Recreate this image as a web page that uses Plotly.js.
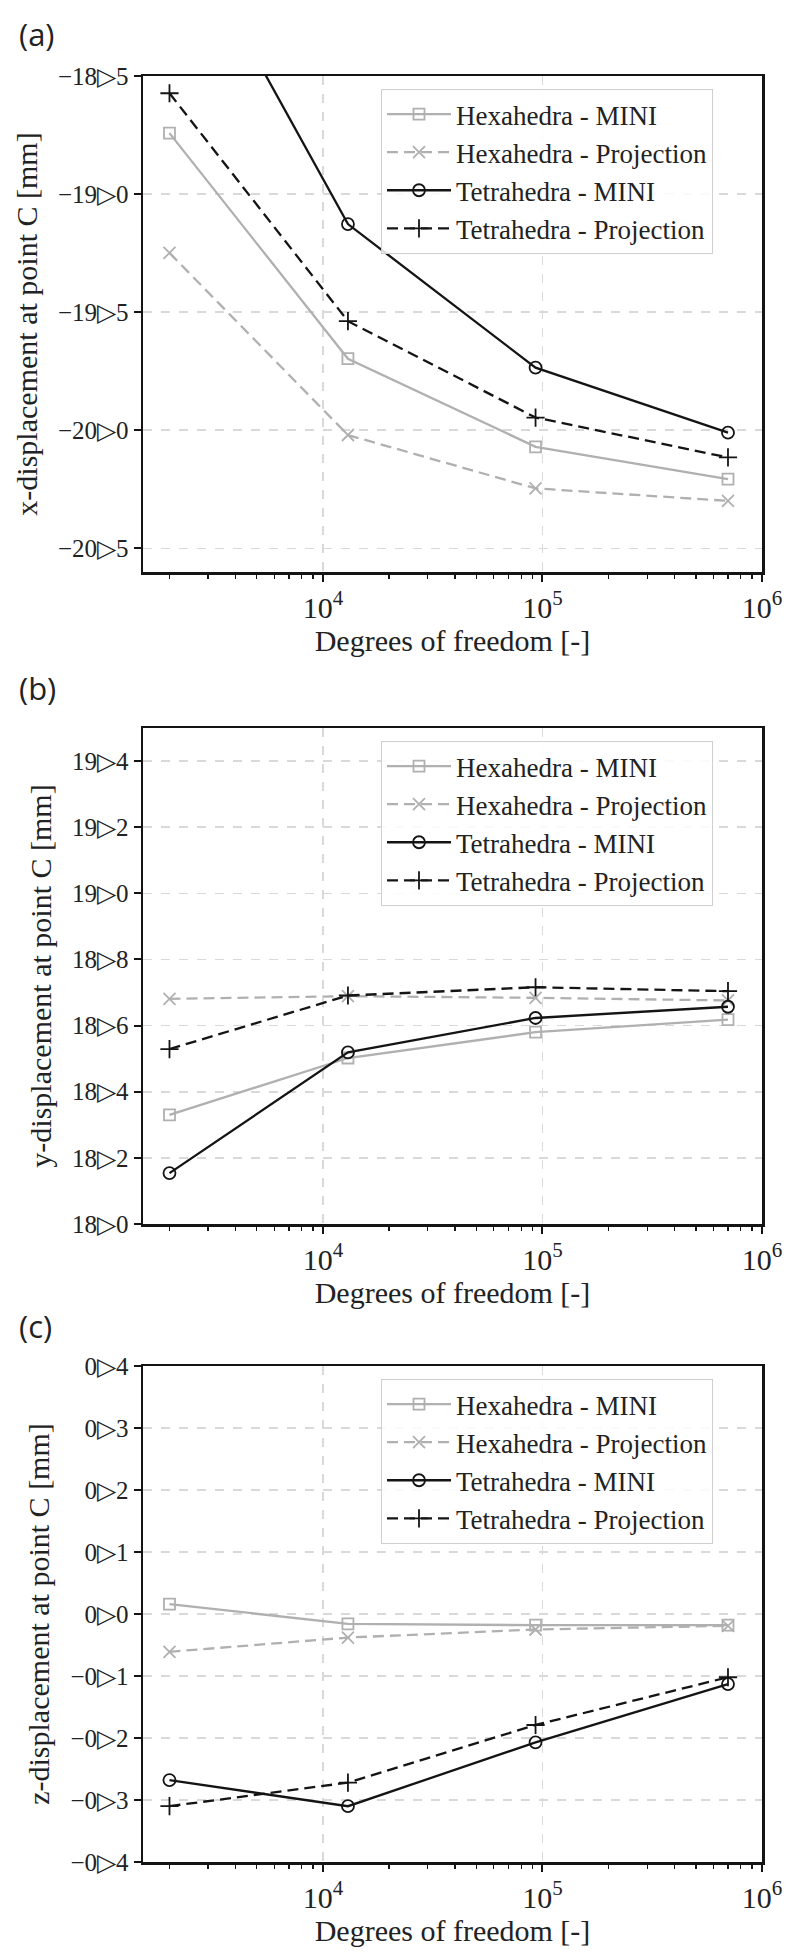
<!DOCTYPE html>
<html><head><meta charset="utf-8">
<script src="https://cdn.plot.ly/plotly-3.0.1.min.js"></script>
<style>body{margin:0;background:#fff}</style>
</head><body><div id="chart" style="width:800px;height:1959px"></div>
<script>
// ---- data ----
const dof = [2000, 13000, 93000, 700000];
const seriesNames = ['Hexahedra - MINI', 'Hexahedra - Projection', 'Tetrahedra - MINI', 'Tetrahedra - Projection'];

// (a) x-displacement [mm]
const xHexaMini = [-18.742, -19.697, -20.070, -20.207];
const xHexaProj = [-19.249, -20.020, -20.246, -20.299];
const xTetraMini = [-17.76, -19.127, -19.735, -20.010];
const xTetraProj = [-18.573, -19.538, -19.946, -20.115];

// (b) y-displacement [mm]
const yHexaMini = [18.330, 18.502, 18.580, 18.618];
const yHexaProj = [18.681, 18.689, 18.684, 18.676];
const yTetraMini = [18.154, 18.519, 18.623, 18.657];
const yTetraProj = [18.529, 18.691, 18.716, 18.704];

// (c) z-displacement [mm]
const zHexaMini = [0.016, -0.016, -0.018, -0.018];
const zHexaProj = [-0.061, -0.038, -0.025, -0.019];
const zTetraMini = [-0.268, -0.310, -0.207, -0.113];
const zTetraProj = [-0.310, -0.272, -0.179, -0.102];

// tick labels
const xTickVals = [1e4, 1e5, 1e6];
const xTickText = ['10<sup>4</sup>', '10<sup>5</sup>', '10<sup>6</sup>'];
const aTickVals = [-20.5, -20.0, -19.5, -19.0, -18.5];
const aTickText = ['\u221220\u25B75', '\u221220\u25B70', '\u221219\u25B75', '\u221219\u25B70', '\u221218\u25B75'];
const bTickVals = [18.0, 18.2, 18.4, 18.6, 18.8, 19.0, 19.2, 19.4];
const bTickText = ['18\u25B70', '18\u25B72', '18\u25B74', '18\u25B76', '18\u25B78', '19\u25B70', '19\u25B72', '19\u25B74'];
const cTickVals = [-0.4, -0.3, -0.2, -0.1, 0.0, 0.1, 0.2, 0.3, 0.4];
const cTickText = ['\u22120\u25B74', '\u22120\u25B73', '\u22120\u25B72', '\u22120\u25B71', '0\u25B70', '0\u25B71', '0\u25B72', '0\u25B73', '0\u25B74'];
const yTitles = ['x-displacement at point C [mm]', 'y-displacement at point C [mm]', 'z-displacement at point C [mm]'];
const xTitle = 'Degrees of freedom [-]';
const panelLabels = ['(a)', '(b)', '(c)'];
const xLimits = [1515, 1e6];
const aLimits = [-20.6, -18.5];
const bLimits = [18.0, 19.5];
const cLimits = [-0.4, 0.4];

// ---- styles ----
const W = 800, H = 1959;
const FONT = "'Liberation Serif', 'Times New Roman', serif";
const GRAY = '#b0b0b0';
const BLACK = '#141414';
const styles = [
  {color: GRAY, dash: 'solid', symbol: 'square-open', size: 11},
  {color: GRAY, dash: '11px,6px', symbol: 'x-thin-open', size: 12},
  {color: BLACK, dash: 'solid', symbol: 'circle-open', size: 12},
  {color: BLACK, dash: '11px,6px', symbol: 'cross-thin-open', size: 13}
];

const panels = [
  {series: [xHexaMini, xHexaProj, xTetraMini, xTetraProj], top: 76, ticks: aTickVals, text: aTickText, lim: aLimits},
  {series: [yHexaMini, yHexaProj, yTetraMini, yTetraProj], top: 728, ticks: bTickVals, text: bTickText, lim: bLimits},
  {series: [zHexaMini, zHexaProj, zTetraMini, zTetraProj], top: 1366, ticks: cTickVals, text: cTickText, lim: cLimits}
];
const plotH = 496, left = 143, right = 762;

const minorTicks = [];
for (let e = 3; e < 6; e++) for (let m = 2; m <= 9; m++) minorTicks.push(m * Math.pow(10, e));

const traces = [];
const layout = {
  width: W, height: H,
  margin: {l: 0, r: 0, t: 0, b: 0},
  paper_bgcolor: '#fff', plot_bgcolor: '#fff',
  font: {family: FONT, color: '#222'},
  annotations: [],
  showlegend: true
};

panels.forEach((p, i) => {
  const n = i === 0 ? '' : String(i + 1);
  p.series.forEach((vals, k) => {
    const s = styles[k];
    traces.push({
      type: 'scatter', mode: 'lines+markers',
      x: dof, y: vals, name: seriesNames[k],
      xaxis: 'x' + n, yaxis: 'y' + n,
      legend: 'legend' + n,
      line: {color: s.color, width: 2.3, dash: s.dash},
      marker: {symbol: s.symbol, size: s.size, color: s.color, line: {color: s.color, width: 1.8}},
      cliponaxis: true
    });
  });
  const y0 = 1 - (p.top + plotH) / H, y1 = 1 - p.top / H;
  layout['xaxis' + n] = {
    type: 'log', range: [Math.log10(xLimits[0]), Math.log10(xLimits[1])],
    domain: [left / W, right / W], anchor: 'y' + n,
    showline: true, mirror: true, linecolor: BLACK, linewidth: 2.5,
    ticks: 'outside', ticklen: 7, tickwidth: 2, tickcolor: BLACK,
    tickmode: 'array', tickvals: xTickVals, ticktext: xTickText,
    tickfont: {family: FONT, size: 30, color: '#222'},
    showgrid: true, gridcolor: '#d9d9d9', griddash: 'dash', gridwidth: 1.6,
    minor: {tickmode: 'array', tickvals: minorTicks, ticks: 'outside', ticklen: 4, tickwidth: 1.3, tickcolor: BLACK, showgrid: false},
    zeroline: false,
    title: {text: xTitle, font: {family: FONT, size: 30, color: '#222'}, standoff: 3}
  };
  layout['yaxis' + n] = {
    range: p.lim, domain: [y0, y1], anchor: 'x' + n,
    showline: true, mirror: true, linecolor: BLACK, linewidth: 2.5,
    ticks: 'outside', ticklen: 7, tickwidth: 2, tickcolor: BLACK,
    tickmode: 'array', tickvals: p.ticks, ticktext: p.text,
    tickfont: {family: FONT, size: 25, color: '#222'},
    showgrid: true, gridcolor: '#d9d9d9', griddash: 'dash', gridwidth: 1.6,
    zeroline: false,
    title: {text: yTitles[i], font: {family: FONT, size: 30, color: '#222'}, standoff: 12}
  };
  layout['legend' + n] = {
    x: 381 / W, y: 1 - (p.top + 13) / H, xanchor: 'left', yanchor: 'top',
    bgcolor: 'rgba(255,255,255,0.85)', bordercolor: '#cfcfcf', borderwidth: 1,
    font: {family: FONT, size: 27, color: '#222'},
    itemwidth: 64, tracegroupgap: 0
  };
  layout.annotations.push({
    text: panelLabels[i], xref: 'paper', yref: 'paper',
    x: 17 / W, y: 1 - (p.top - (i === 0 ? 42 : 40)) / H, xanchor: 'left', yanchor: 'middle',
    showarrow: false, font: {family: "'Open Sans', sans-serif", size: 31, color: '#222'}
  });
});

Plotly.newPlot('chart', traces, layout, {displayModeBar: false, staticPlot: true});
</script>
</body></html>
